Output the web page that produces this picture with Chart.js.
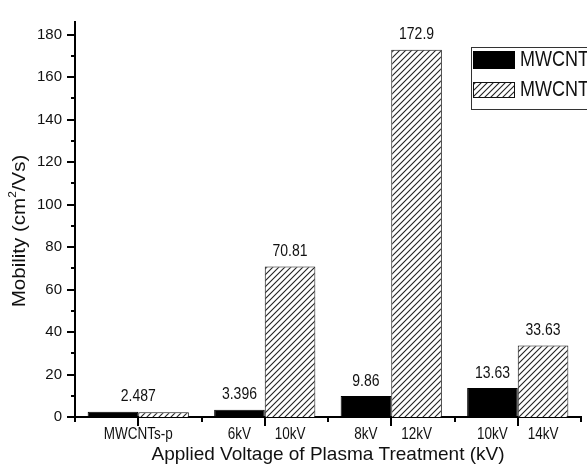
<!DOCTYPE html>
<html>
<head>
<meta charset="utf-8">
<script src="https://cdn.jsdelivr.net/npm/chart.js@4.4.1/dist/chart.umd.min.js"></script>
<style>
  html, body { margin: 0; padding: 0; background: #fff; }
  #wrap { width: 587px; height: 470px; }
</style>
</head>
<body>
<div id="wrap"><canvas id="grafica" width="587" height="470"></canvas></div>
<script>
// Datos
const categorias      = ['MWCNTs-p', '6kV / 10kV', '8kV / 12kV', '10kV / 14kV'];
const leyenda         = ['MWCNTs-A', 'MWCNTs-B'];
const valoresNegros   = [2.487, 3.396, 9.86, 13.63];
const valoresRayados  = [2.2, 70.81, 172.9, 33.63];
const textosNegros    = ['2.487', '3.396', '9.86', '13.63'];
const textosRayados   = [null, '70.81', '172.9', '33.63'];
const etiquetasNegras = ['', '6kV', '8kV', '10kV'];
const etiquetasRayadas= ['', '10kV', '12kV', '14kV'];
const ticksY          = [0, 20, 40, 60, 80, 100, 120, 140, 160, 180];

const FUENTE = '"Liberation Sans", Arial, sans-serif';
const ESTIRA = 1.18; // el original tiene el texto algo alargado en vertical

function rayado() {
  const c = document.createElement('canvas');
  c.width = 6; c.height = 6;
  const g = c.getContext('2d');
  g.fillStyle = '#fff'; g.fillRect(0, 0, 6, 6);
  g.strokeStyle = '#222'; g.lineWidth = 1.1;
  g.beginPath();
  g.moveTo(0, 6); g.lineTo(6, 0);
  g.moveTo(-1, 1); g.lineTo(1, -1);
  g.moveTo(5, 7); g.lineTo(7, 5);
  g.stroke();
  return g.createPattern(c, 'repeat');
}
const patron = rayado();

// texto centrado con estiramiento vertical
function texto(ctx, t, x, y) {
  ctx.save();
  ctx.translate(x, y);
  ctx.scale(1, ESTIRA);
  ctx.fillText(t, 0, 0);
  ctx.restore();
}

const adornos = {
  id: 'adornos',
  afterDatasetsDraw(chart) {
    const { ctx } = chart;
    const x = chart.scales.x, y = chart.scales.y;
    const m0 = chart.getDatasetMeta(0), m1 = chart.getDatasetMeta(1);
    ctx.save();
    ctx.fillStyle = '#111';
    ctx.textAlign = 'center';
    ctx.textBaseline = 'middle';

    // valores sobre las barras
    ctx.font = '14px ' + FUENTE;
    categorias.forEach((cat, i) => {
      const b0 = m0.data[i], b1 = m1.data[i];
      if (textosRayados[i] === null) {
        texto(ctx, textosNegros[i], (b0.x + b1.x) / 2, Math.min(b0.y, b1.y) - 15);
      } else {
        texto(ctx, textosNegros[i], b0.x, b0.y - 15);
        texto(ctx, textosRayados[i], b1.x, b1.y - 15);
      }
    });

    // etiquetas bajo el eje
    ctx.font = '13.5px ' + FUENTE;
    const yEt = y.bottom + 18;
    categorias.forEach((cat, i) => {
      const b0 = m0.data[i], b1 = m1.data[i];
      if (!etiquetasNegras[i]) {
        texto(ctx, cat, x.getPixelForValue(i), yEt);
      } else {
        texto(ctx, etiquetasNegras[i], b0.x, yEt);
        texto(ctx, etiquetasRayadas[i], b1.x, yEt);
      }
    });

    // marcas de los ejes
    ctx.strokeStyle = '#000';
    ctx.lineWidth = 2;
    ctx.beginPath();
    for (let v = 0; v <= 180; v += 10) {
      const py = Math.round(y.getPixelForValue(v));
      const largo = v % 20 === 0 ? 8 : 4;
      ctx.moveTo(y.right - largo, py);
      ctx.lineTo(y.right, py);
    }
    for (let i = 0; i < categorias.length; i++) {
      const pc = Math.round(x.getPixelForValue(i));
      ctx.moveTo(pc, x.top); ctx.lineTo(pc, x.top + 9);
      const pb = Math.round(x.getPixelForValue(i - 0.5));
      ctx.moveTo(pb, x.top); ctx.lineTo(pb, x.top + 5);
    }
    const pf = Math.round(x.getPixelForValue(categorias.length - 0.5));
    ctx.moveTo(pf, x.top); ctx.lineTo(pf, x.top + 5);
    ctx.stroke();

    // título del eje Y con superíndice
    ctx.translate(20, 231);
    ctx.rotate(-Math.PI / 2);
    ctx.scale(1.08, 1);
    ctx.textAlign = 'left';
    const f1 = '19px ' + FUENTE, f2 = '11px ' + FUENTE;
    ctx.font = f1; const w1 = ctx.measureText('Mobility (cm').width;
    ctx.font = f2; const w2 = ctx.measureText('2').width;
    ctx.font = f1; const w3 = ctx.measureText('/Vs)').width;
    let px = -(w1 + w2 + w3) / 2;
    ctx.font = f1; ctx.fillText('Mobility (cm', px, 0); px += w1;
    ctx.font = f2; ctx.fillText('2', px, -7); px += w2;
    ctx.font = f1; ctx.fillText('/Vs)', px, 0);
    ctx.restore();

    // leyenda (cortada en el borde derecho como en el original)
    ctx.save();
    ctx.strokeStyle = '#333';
    ctx.lineWidth = 1;
    ctx.strokeRect(471.5, 47.5, 140, 62);
    ctx.fillStyle = '#000';
    ctx.fillRect(473, 51, 42, 18);
    ctx.fillStyle = patron;
    ctx.fillRect(473, 82, 42, 16);
    ctx.strokeStyle = '#111';
    ctx.strokeRect(473.5, 82.5, 41, 15);
    ctx.fillStyle = '#111';
    ctx.font = '18px ' + FUENTE;
    ctx.textBaseline = 'middle';
    texto(ctx, leyenda[0], 520, 60);
    texto(ctx, leyenda[1], 520, 90);
    ctx.restore();
  }
};

new Chart(document.getElementById('grafica'), {
  type: 'bar',
  data: {
    labels: categorias,
    datasets: [
      { label: leyenda[0], data: valoresNegros, backgroundColor: '#000', borderColor: '#000',
        borderWidth: 1, categoryPercentage: 0.8, barPercentage: 1 },
      { label: leyenda[1], data: valoresRayados, backgroundColor: patron, borderColor: '#111',
        borderWidth: 1, categoryPercentage: 0.8, barPercentage: 1 }
    ]
  },
  options: {
    responsive: false,
    animation: false,
    layout: { padding: { top: 12, right: 6, left: 0, bottom: 0 } },
    plugins: { legend: { display: false }, tooltip: { enabled: false } },
    scales: {
      x: {
        grid: { display: false },
        border: { display: true, color: '#000', width: 2 },
        ticks: { display: false },
        title: { display: true, text: 'Applied Voltage of Plasma Treatment (kV)', color: '#111',
                 font: { family: FUENTE, size: 19 }, padding: { top: 0, bottom: 4 } },
        afterFit(s) { s.height = 53; }
      },
      y: {
        min: 0, max: 186,
        grid: { display: false, drawTicks: false },
        border: { display: true, color: '#000', width: 2 },
        afterBuildTicks(s) { s.ticks = ticksY.map(v => ({ value: v })); },
        ticks: { padding: 13, color: '#111', autoSkip: false,
                 font: { family: FUENTE, size: 15 } },
        afterFit(s) { s.width = 75; }
      }
    }
  },
  plugins: [adornos]
});
</script>
</body>
</html>
